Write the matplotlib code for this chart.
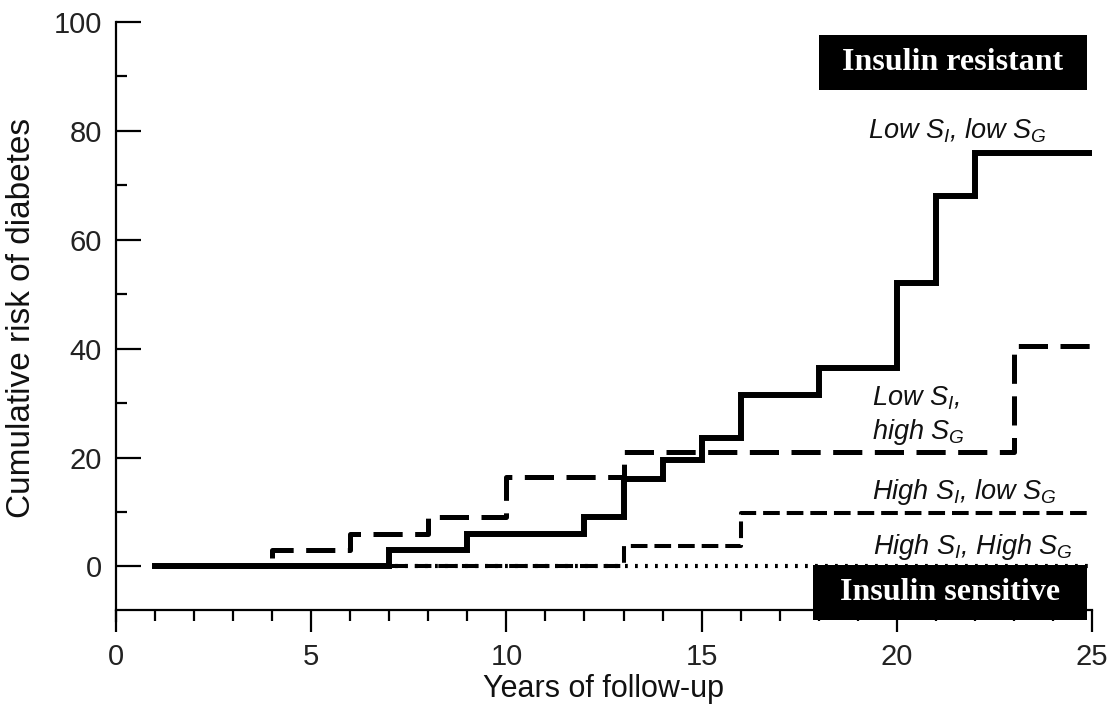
import matplotlib
matplotlib.use("Agg")
import matplotlib.pyplot as plt
from matplotlib.ticker import MultipleLocator
from matplotlib.patches import Rectangle

plt.rcParams['font.family'] = ['Liberation Sans', 'DejaVu Sans']
plt.rcParams['mathtext.fontset'] = 'custom'
plt.rcParams['mathtext.it'] = 'Liberation Sans:italic'
plt.rcParams['mathtext.rm'] = 'Liberation Sans'
plt.rcParams['lines.scale_dashes'] = False

# Kaplan-Meier style step curves (year, cumulative risk %)
low_si_low_sg_x = [1, 7, 9, 12, 13, 14, 15, 16, 18, 20, 21, 22, 25]
low_si_low_sg_y = [0, 3, 6, 9, 16, 19.5, 23.5, 31.5, 36.5, 52, 68, 76, 76]

low_si_high_sg_x = [1, 4, 6, 8, 10, 13, 23, 25]
low_si_high_sg_y = [0, 3, 6, 9, 16.5, 21, 40.5, 40.5]

high_si_low_sg_x = [1, 13, 16, 25]
high_si_low_sg_y = [0, 3.7, 9.9, 9.9]

high_si_high_sg_x = [1, 25]
high_si_high_sg_y = [0, 0]

x_ticks = [0, 5, 10, 15, 20, 25]
y_ticks = [0, 20, 40, 60, 80, 100]

fig = plt.figure(figsize=(11.11, 7.07), dpi=100)
ax = fig.add_axes([0.1044, 0.1372, 0.8785, 0.8317])

ax.plot(high_si_high_sg_x, high_si_high_sg_y, drawstyle='steps-post', color='black',
        lw=3.0, dashes=(2, 5.2), dash_capstyle='butt', zorder=2)
ax.plot(high_si_low_sg_x, high_si_low_sg_y, drawstyle='steps-post', color='black',
        lw=2.9, dashes=(12, 5), dash_capstyle='butt', zorder=3)
ax.plot(low_si_high_sg_x, low_si_high_sg_y, drawstyle='steps-post', color='black',
        lw=3.6, dashes=(21, 9), dash_capstyle='butt', zorder=4)
ax.plot(low_si_low_sg_x, low_si_low_sg_y, drawstyle='steps-post', color='black',
        lw=4.3, solid_joinstyle='miter', zorder=5)

ax.set_xlim(0, 25)
ax.set_ylim(-8, 100)
ax.spines['top'].set_visible(False)
ax.spines['right'].set_visible(False)
ax.spines['left'].set_linewidth(1.6)
ax.spines['bottom'].set_linewidth(1.6)
ax.spines['left'].set_bounds(-10, 100)

ax.set_xticks(x_ticks)
ax.set_yticks(y_ticks)
ax.xaxis.set_minor_locator(MultipleLocator(1))
ax.yaxis.set_minor_locator(MultipleLocator(10))
ax.tick_params(axis='x', which='major', direction='out', length=16, width=1.6,
               labelsize=21, pad=8, labelcolor='#222222')
ax.tick_params(axis='x', which='minor', direction='out', length=8, width=1.6)
ax.tick_params(axis='y', which='major', direction='in', length=18, width=1.6,
               labelsize=21, pad=10, labelcolor='#222222')
ax.tick_params(axis='y', which='minor', direction='in', length=8, width=1.6)

ax.set_xlabel('Years of follow-up', fontsize=22, color='#111111', va='baseline')
ax.xaxis.set_label_coords(0.5, -0.148)
ax.set_ylabel('Cumulative risk of diabetes', fontsize=24, color='#111111')
ax.yaxis.set_label_coords(-0.081, 0.497)

lab_kw = dict(fontsize=19.5, style='italic', ha='left', va='center', color='#111111')
ax.text(19.26, 80, r'Low $S_I$, low $S_G$', **lab_kw)
ax.text(19.36, 27.7, 'Low $S_I$,\nhigh $S_G$', linespacing=1.2, **lab_kw)
ax.text(19.36, 13.6, r'High $S_I$, low $S_G$', **lab_kw)
ax.text(19.4, 3.5, r'High $S_I$, High $S_G$', **lab_kw)

# black header / footer boxes
boxes = [
    ('Insulin resistant', 819, 35, 1087, 90),
    ('Insulin sensitive', 813, 565, 1087, 620),
]
W, H = 1111, 707
for txt, x0, y0, x1, y1 in boxes:
    fig.patches.append(Rectangle((x0 / W, 1 - y1 / H), (x1 - x0) / W, (y1 - y0) / H,
                                 transform=fig.transFigure, facecolor='black',
                                 edgecolor='none', zorder=10))
    fig.text((x0 + x1) / 2 / W, 1 - (y0 + y1) / 2 / H, txt, color='white',
             fontsize=23, fontweight='bold', family='Liberation Serif',
             ha='center', va='center', zorder=11)

fig.savefig('out.png', dpi=100)
